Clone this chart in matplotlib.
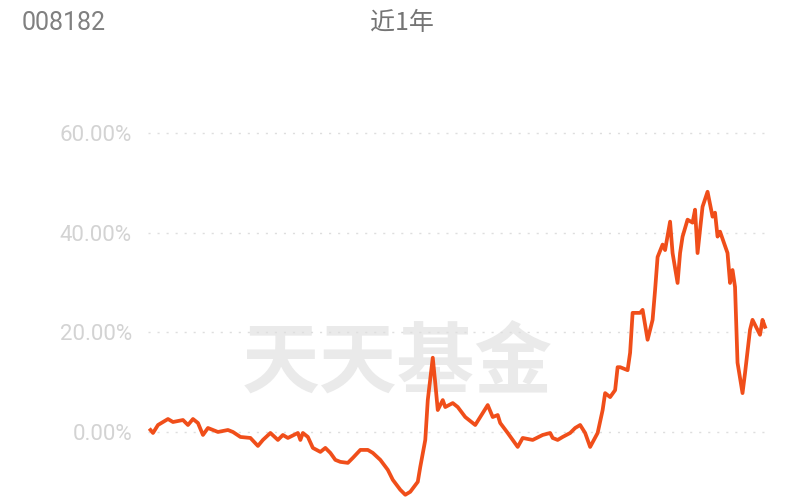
import matplotlib
matplotlib.use("Agg")
import matplotlib.pyplot as plt

plt.rcParams['font.family'] = ['Roboto', 'Noto Sans CJK SC', 'DejaVu Sans']

# trading day index within the year and cumulative return (%)
days = [1, 2, 4, 8, 10, 14, 16, 18, 20, 22, 24, 28, 32, 34, 37, 41, 44, 46, 49, 52,
        54, 56, 60, 61, 62, 64, 66, 69, 71, 73, 75, 77, 80, 82, 85, 88, 90, 93, 96, 98,
        101, 103, 105, 108, 109, 111, 112, 114, 115, 116, 118, 119, 122, 124, 127, 131,
        134, 136, 138, 140, 141, 144, 146, 148, 150, 154, 158, 161, 162, 164, 166, 169,
        171, 173, 175, 177, 180, 182, 183, 185, 187, 188, 189, 192, 193, 194, 197, 198,
        200, 202, 203, 204, 206, 207, 209, 210, 212, 213, 214, 216, 218, 219, 220, 221,
        222, 224, 226, 227, 228, 229, 232, 233, 234, 235, 236, 238, 239, 241, 242, 245,
        246, 247]
returns = [0.4, -0.2, 1.4, 2.6, 2.0, 2.4, 1.4, 2.6, 1.8, -0.6, 0.8, 0.0, 0.4, 0.0, -1.0,
           -1.2, -2.8, -1.6, -0.2, -1.6, -0.6, -1.2, -0.2, -1.6, -0.2, -1.0, -3.2, -4.0,
           -3.2, -4.2, -5.6, -6.0, -6.2, -5.2, -3.6, -3.6, -4.2, -5.6, -7.6, -9.6, -11.6,
           -12.6, -12.0, -10.0, -7.0, -1.6, 6.4, 14.9, 9.8, 4.4, 6.4, 5.0, 5.8, 5.0, 3.0,
           1.4, 3.8, 5.4, 3.0, 3.4, 1.8, -0.2, -1.6, -3.0, -1.2, -1.6, -0.6, -0.2, -1.2,
           -1.6, -1.0, -0.2, 0.8, 1.4, -0.2, -3.0, -0.2, 4.4, 7.8, 7.0, 8.4, 13.0, 13.0,
           12.4, 15.9, 23.9, 23.9, 24.5, 18.5, 22.5, 28.5, 35.1, 37.6, 36.5, 42.2, 35.9,
           29.9, 35.9, 39.2, 42.6, 42.0, 44.6, 35.9, 40.6, 45.2, 48.2, 43.2, 44.0, 39.2,
           40.2, 35.9, 29.9, 32.5, 29.1, 13.9, 7.8, 11.8, 20.5, 22.5, 19.5, 22.5, 21.1]

yticks = [0, 20, 40, 60]
ytick_labels = ["0.00%", "20.00%", "40.00%", "60.00%"]

fig = plt.figure(figsize=(8, 5), dpi=100)
ax = fig.add_axes([0.185, 0.0, 0.7775, 0.76])

ax.plot(days, returns, color='#f04e1a', lw=2.7, solid_joinstyle='round', zorder=3)

ax.set_xlim(0, 249)
ax.set_ylim(-13.65, 62.6)
ax.set_yticks(yticks)
ax.set_yticklabels(ytick_labels)
ax.set_xticks([])
ax.tick_params(axis='y', length=0, pad=11.5, labelsize=16, labelcolor='#d3d3d3')
for s in ax.spines.values():
    s.set_visible(False)
for yv in yticks:
    ax.axhline(yv, color='#dedede', lw=1.0, ls=(0, (1.5, 5)), zorder=1)

# watermark
ax.text(0.40, 0.355, "天天基金", transform=ax.transAxes, ha='center', va='center',
        fontsize=56, fontweight='bold', color='#eaeaea', family=['Noto Sans CJK SC'],
        zorder=0)

fig.text(22 / 800, 1 - 23 / 500, "008182", ha='left', va='center', fontsize=18,
         color='#808080')
fig.text(402 / 800, 1 - 23 / 500, "近1年", ha='center', va='center', fontsize=18,
         color='#747474', family=['Noto Sans CJK SC', 'DejaVu Sans'])

fig.savefig("out.png", dpi=100, facecolor='white')
